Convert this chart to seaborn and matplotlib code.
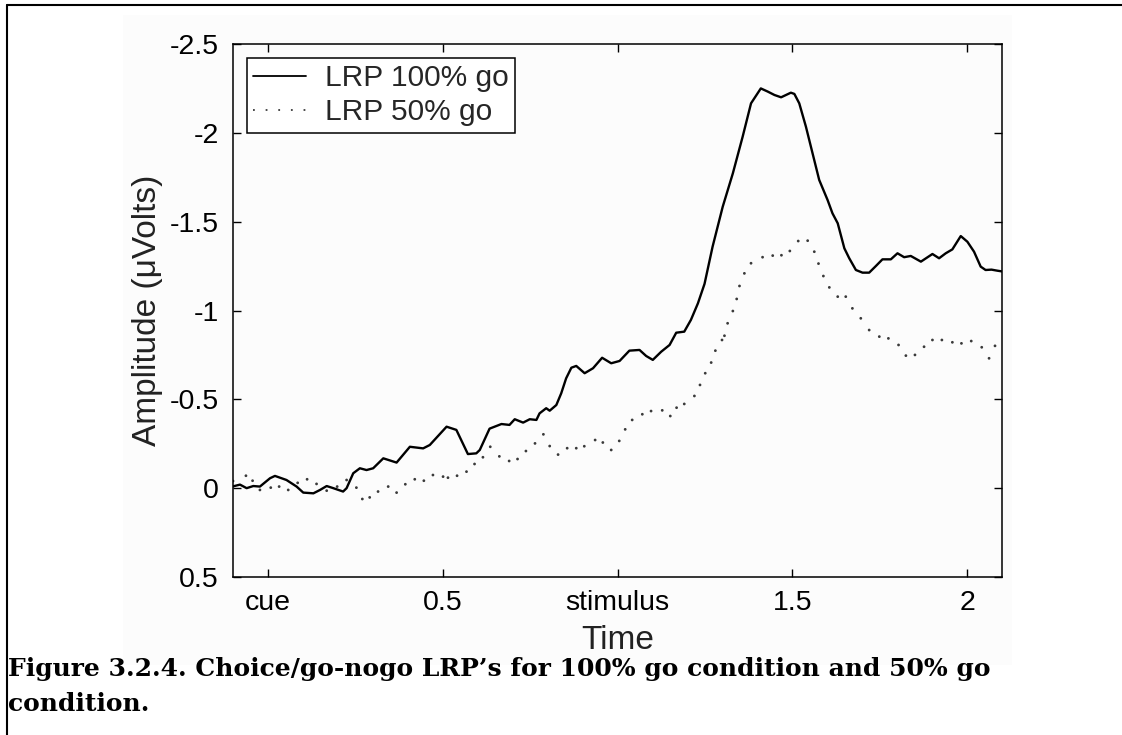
import numpy as np
import pandas as pd
import matplotlib
matplotlib.use("Agg")
import matplotlib.pyplot as plt
from matplotlib.lines import Line2D
from matplotlib.patches import Rectangle
import seaborn as sns

# ---------------- data ----------------
t_go100 = [-0.1, -0.08, -0.061, -0.042, -0.023, 0.006, 0.02, 0.053, 0.082, 0.101,
           0.13, 0.149, 0.168, 0.187, 0.215, 0.225, 0.244, 0.263, 0.282, 0.301,
           0.33, 0.368, 0.406, 0.444, 0.463, 0.511, 0.539, 0.572, 0.596, 0.606,
           0.634, 0.668, 0.691, 0.706, 0.73, 0.749, 0.768, 0.777, 0.796, 0.806,
           0.825, 0.839, 0.853, 0.868, 0.882, 0.906, 0.93, 0.956, 0.982, 1.006,
           1.034, 1.063, 1.082, 1.101, 1.125, 1.149, 1.168, 1.191, 1.21, 1.23,
           1.249, 1.272, 1.301, 1.33, 1.358, 1.382, 1.41, 1.43, 1.449, 1.468,
           1.496, 1.506, 1.52, 1.539, 1.558, 1.577, 1.601, 1.615, 1.63, 1.649,
           1.663, 1.682, 1.701, 1.72, 1.739, 1.758, 1.782, 1.801, 1.82, 1.839,
           1.868, 1.901, 1.92, 1.939, 1.958, 1.982, 2.001, 2.02, 2.039, 2.053,
           2.07, 2.087, 2.1]
v_go100 = [-0.01, -0.02, 0.0, -0.012, -0.009, -0.056, -0.069, -0.046, -0.009, 0.025,
           0.029, 0.01, -0.012, 0.0, 0.019, 0.0, -0.084, -0.112, -0.102, -0.112,
           -0.168, -0.144, -0.233, -0.224, -0.243, -0.346, -0.328, -0.192, -0.196, -0.215,
           -0.335, -0.361, -0.356, -0.388, -0.369, -0.388, -0.384, -0.421, -0.45, -0.436,
           -0.468, -0.534, -0.618, -0.678, -0.688, -0.647, -0.675, -0.734, -0.703, -0.716,
           -0.774, -0.778, -0.744, -0.722, -0.768, -0.806, -0.875, -0.881, -0.947, -1.04,
           -1.15, -1.359, -1.584, -1.772, -1.978, -2.166, -2.25, -2.232, -2.213, -2.2,
           -2.226, -2.219, -2.166, -2.035, -1.885, -1.735, -1.622, -1.547, -1.491, -1.35,
           -1.294, -1.228, -1.213, -1.213, -1.25, -1.288, -1.288, -1.322, -1.3, -1.307,
           -1.275, -1.318, -1.294, -1.322, -1.344, -1.419, -1.387, -1.331, -1.247, -1.228,
           -1.23, -1.224, -1.22]

t_go50 = [-0.1, -0.063, -0.044, -0.023, 0.008, 0.032, 0.058, 0.085, 0.112, 0.139,
          0.168, 0.198, 0.225, 0.253, 0.27, 0.291, 0.315, 0.344, 0.368, 0.393,
          0.42, 0.446, 0.472, 0.501, 0.515, 0.541, 0.568, 0.591, 0.615, 0.636,
          0.662, 0.69, 0.714, 0.738, 0.764, 0.788, 0.806, 0.83, 0.856, 0.882,
          0.905, 0.936, 0.958, 0.982, 1.005, 1.022, 1.042, 1.071, 1.096, 1.128,
          1.151, 1.169, 1.191, 1.22, 1.236, 1.251, 1.268, 1.28, 1.299, 1.306,
          1.315, 1.33, 1.341, 1.349, 1.363, 1.382, 1.415, 1.444, 1.469, 1.493,
          1.517, 1.544, 1.563, 1.575, 1.589, 1.606, 1.63, 1.653, 1.672, 1.696,
          1.72, 1.749, 1.775, 1.804, 1.825, 1.851, 1.877, 1.901, 1.928, 1.958,
          1.984, 2.012, 2.042, 2.063, 2.08]
v_go50 = [-0.04, -0.07, -0.042, 0.01, -0.003, -0.009, 0.01, -0.03, -0.05, -0.024,
          0.014, -0.009, -0.046, -0.003, 0.061, 0.052, 0.019, -0.009, 0.025, -0.022,
          -0.05, -0.042, -0.074, -0.065, -0.059, -0.07, -0.093, -0.136, -0.174, -0.233,
          -0.179, -0.153, -0.164, -0.209, -0.252, -0.303, -0.237, -0.189, -0.225, -0.225,
          -0.236, -0.271, -0.257, -0.215, -0.266, -0.331, -0.384, -0.416, -0.434, -0.438,
          -0.406, -0.453, -0.474, -0.519, -0.581, -0.647, -0.707, -0.774, -0.834, -0.858,
          -0.928, -0.997, -1.065, -1.138, -1.209, -1.266, -1.3, -1.309, -1.311, -1.335,
          -1.391, -1.393, -1.331, -1.264, -1.194, -1.13, -1.078, -1.078, -1.012, -0.956,
          -0.89, -0.853, -0.843, -0.806, -0.746, -0.75, -0.796, -0.834, -0.834, -0.821,
          -0.815, -0.828, -0.793, -0.731, -0.801]

x_ticks = [0, 0.5, 1, 1.5, 2]
x_ticklabels = ["cue", "0.5", "stimulus", "1.5", "2"]
y_ticks = [-2.5, -2, -1.5, -1, -0.5, 0, 0.5]
y_ticklabels = ["-2.5", "-2", "-1.5", "-1", "-0.5", "0", "0.5"]
series_names = ["LRP 100% go", "LRP 50% go"]
x_label = "Time"
y_label = "Amplitude (\u03bcVolts)"
caption = ("Figure 3.2.4. Choice/go-nogo LRP\u2019s for 100% go condition and 50% go\n"
           "condition.")

# ---------------- style ----------------
sns.set_theme(style="ticks")
plt.rcParams["font.family"] = ["Liberation Sans", "DejaVu Sans"]
plt.rcParams["axes.unicode_minus"] = False

W, H = 1122, 735
fig = plt.figure(figsize=(W / 100, H / 100), dpi=100)
fig.patch.set_facecolor("white")

# faint grey backdrop of the pasted chart image
fig.patches.append(Rectangle((123 / W, 1 - 665 / H), (1012 - 123) / W, (665 - 15) / H,
                             transform=fig.transFigure, facecolor="#fcfcfc",
                             edgecolor="none", zorder=-5))

ax = fig.add_axes([233 / W, 1 - 577 / H, (1002 - 233) / W, (577 - 44) / H])
ax.set_zorder(2)
ax.patch.set_alpha(0)

df100 = pd.DataFrame({"t": t_go100, "v": v_go100})
df50 = pd.DataFrame({"t": t_go50, "v": v_go50})

sns.lineplot(data=df100, x="t", y="v", ax=ax, color="black", lw=1.7,
             estimator=None, sort=False)
sns.scatterplot(data=df50, x="t", y="v", ax=ax, color="#3a3a3a", s=4,
                edgecolor="none", linewidth=0)

ax.set_xlim(-0.1, 2.1)
ax.set_ylim(0.5, -2.5)
ax.set_xticks(x_ticks)
ax.set_xticklabels(x_ticklabels)
ax.set_yticks(y_ticks)
ax.set_yticklabels(y_ticklabels)
ax.tick_params(axis="both", which="major", direction="in", length=5.5, width=1,
               colors="black", labelsize=20.5, top=True, right=True, pad=10)
ax.tick_params(axis="x", pad=9)
for sp in ax.spines.values():
    sp.set_visible(True)
    sp.set_linewidth(1.1)
    sp.set_color("black")

ax.set_xlabel(x_label, fontsize=24, labelpad=7, color="#222222")
ax.set_ylabel(y_label, fontsize=24, labelpad=5, color="#222222")

handles = [Line2D([], [], color="black", lw=1.3),
           Line2D([], [], color="#3a3a3a", lw=1.3, dashes=(1, 6))]
leg = ax.legend(handles, series_names, loc="upper left",
                bbox_to_anchor=(0.018, 0.974), borderaxespad=0, fontsize=21.5,
                frameon=True, fancybox=False, handlelength=1.75,
                handletextpad=0.65, borderpad=0.22, labelspacing=0.2)
leg.get_frame().set_edgecolor("black")
leg.get_frame().set_linewidth(1.1)
leg.get_frame().set_facecolor("white")
leg.get_frame().set_alpha(1)

# caption
fig.text(8 / W, 1 - 657 / H, caption, ha="left", va="top", fontsize=18,
         fontweight="bold", family=["DejaVu Serif"], linespacing=1.6,
         color="black", zorder=3)

# page frame (top and left rules)
fig.add_artist(Line2D([7 / W, 1.0], [1 - 5 / H, 1 - 5 / H], transform=fig.transFigure,
                      color="black", lw=1.5))
fig.add_artist(Line2D([7 / W, 7 / W], [0, 1 - 5 / H], transform=fig.transFigure,
                      color="black", lw=1.5))

fig.savefig("out.png", dpi=100)
